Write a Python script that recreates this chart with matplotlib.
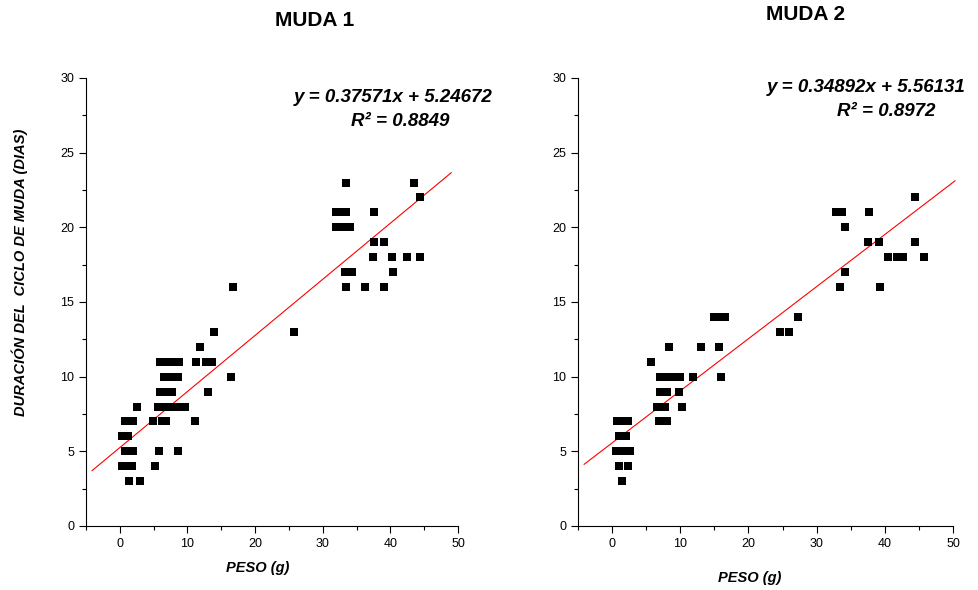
import matplotlib
matplotlib.use("Agg")
import matplotlib.pyplot as plt
import numpy as np
from matplotlib.ticker import MultipleLocator

plt.rcParams["font.family"] = ["Liberation Sans", "DejaVu Sans"]

# ---- datos MUDA 1 ----
peso_1 = [1.4, 3.0,
          0.3, 1.0, 1.8, 5.2,
          0.7, 1.9, 5.8, 8.6,
          0.4, 1.2,
          0.7, 1.9, 4.9, 6.2, 6.9, 11.1,
          2.5, 5.6, 6.6, 7.7, 8.7, 9.7,
          6.0, 6.9, 7.7, 13.0,
          6.5, 7.5, 8.6, 16.4,
          6.0, 7.1, 8.1, 8.7, 11.2, 12.7, 13.6,
          11.8,
          14.0, 25.8,
          16.7,
          33.5, 36.2, 39.1,
          33.3, 34.4, 40.4,
          37.5, 40.3, 42.5, 44.4,
          37.6, 39.1,
          32.0, 33.0, 34.0,
          31.9, 32.6, 33.5, 37.6,
          44.4,
          33.5, 43.5]
dias_1 = [3, 3,
          4, 4, 4, 4,
          5, 5, 5, 5,
          6, 6,
          7, 7, 7, 7, 7, 7,
          8, 8, 8, 8, 8, 8,
          9, 9, 9, 9,
          10, 10, 10, 10,
          11, 11, 11, 11, 11, 11, 11,
          12,
          13, 13,
          16,
          16, 16, 16,
          17, 17, 17,
          18, 18, 18, 18,
          19, 19,
          20, 20, 20,
          21, 21, 21, 21,
          22,
          23, 23]

# ---- datos MUDA 2 ----
peso_2 = [1.4,
          1.0, 2.4,
          0.6, 1.6, 2.6,
          1.0, 2.1,
          0.7, 1.6, 2.4, 6.9, 8.1,
          6.6, 7.8, 10.3,
          7.1, 8.1, 9.8,
          7.1, 7.9, 9.0, 10.0, 11.9, 16.0,
          5.7,
          8.4, 13.1, 15.7,
          24.7, 25.9,
          14.9, 15.7, 16.5, 27.2,
          33.5, 39.3,
          34.2,
          40.4, 41.8, 42.6, 45.8,
          37.6, 39.1, 44.5,
          34.2,
          32.8, 33.7, 37.7,
          44.5]
dias_2 = [3,
          4, 4,
          5, 5, 5,
          6, 6,
          7, 7, 7, 7, 7,
          8, 8, 8,
          9, 9, 9,
          10, 10, 10, 10, 10, 10,
          11,
          12, 12, 12,
          13, 13,
          14, 14, 14, 14,
          16, 16,
          17,
          18, 18, 18, 18,
          19, 19, 19,
          20,
          21, 21, 21,
          22]

# ---- regresiones ----
pendiente = [0.37571, 0.34892]
intercepto = [5.24672, 5.56131]
r2 = ["0.8849", "0.8972"]
rango_linea = [(-4.1, 49.0), (-4.1, 50.3)]

fig = plt.figure(figsize=(9.79, 5.9), dpi=100)
ax1 = fig.add_axes([0.0878, 0.1085, 0.380, 0.7593])
ax2 = fig.add_axes([0.5904, 0.1085, 0.3830, 0.7593])

for ax, px, py, m, b, xr in [(ax1, peso_1, dias_1, pendiente[0], intercepto[0], rango_linea[0]),
                              (ax2, peso_2, dias_2, pendiente[1], intercepto[1], rango_linea[1])]:
    ax.scatter(px, py, marker="s", s=34, color="black", linewidths=0, zorder=3)
    xl = np.array(xr)
    ax.plot(xl, m * xl + b, color="red", lw=0.8, zorder=2, clip_on=False)
    ax.set_xlim(-5, 50)
    ax.set_ylim(0, 30)
    ax.spines["top"].set_visible(False)
    ax.spines["right"].set_visible(False)
    ax.xaxis.set_major_locator(MultipleLocator(10))
    ax.xaxis.set_minor_locator(MultipleLocator(5))
    ax.yaxis.set_major_locator(MultipleLocator(5))
    ax.yaxis.set_minor_locator(MultipleLocator(2.5))
    ax.tick_params(which="major", direction="out", length=5, width=0.8, labelsize=9)
    ax.tick_params(which="minor", direction="out", length=3, width=0.8)

# titulos y textos
estilo = dict(ha="center", va="center", fontweight="bold", style="italic")
fig.text(315 / 979, 1 - 20 / 590, "MUDA 1", ha="center", va="center", fontsize=15, fontweight="bold")
fig.text(806 / 979, 1 - 15 / 590, "MUDA 2", ha="center", va="center", fontsize=15, fontweight="bold")

fig.text(393 / 979, 1 - 98 / 590, "y = %.5fx + %.5f" % (pendiente[0], intercepto[0]),
         fontsize=13.5, **estilo)
fig.text(400 / 979, 1 - 121 / 590, "R² = " + r2[0], fontsize=13.5, **estilo)
fig.text(866 / 979, 1 - 88 / 590, "y = %.5fx + %.5f" % (pendiente[1], intercepto[1]),
         fontsize=13.5, **estilo)
fig.text(886 / 979, 1 - 111 / 590, "R² = " + r2[1], fontsize=13.5, **estilo)

fig.text(20 / 979, 1 - 272 / 590, "DURACIÓN DEL  CICLO DE MUDA (DIAS)", rotation=90,
         fontsize=10.5, **estilo)
fig.text(258 / 979, 1 - 568 / 590, "PESO (g)", fontsize=10.5, **estilo)
fig.text(750 / 979, 1 - 578 / 590, "PESO (g)", fontsize=10.5, **estilo)

fig.savefig("out.png", dpi=100)
